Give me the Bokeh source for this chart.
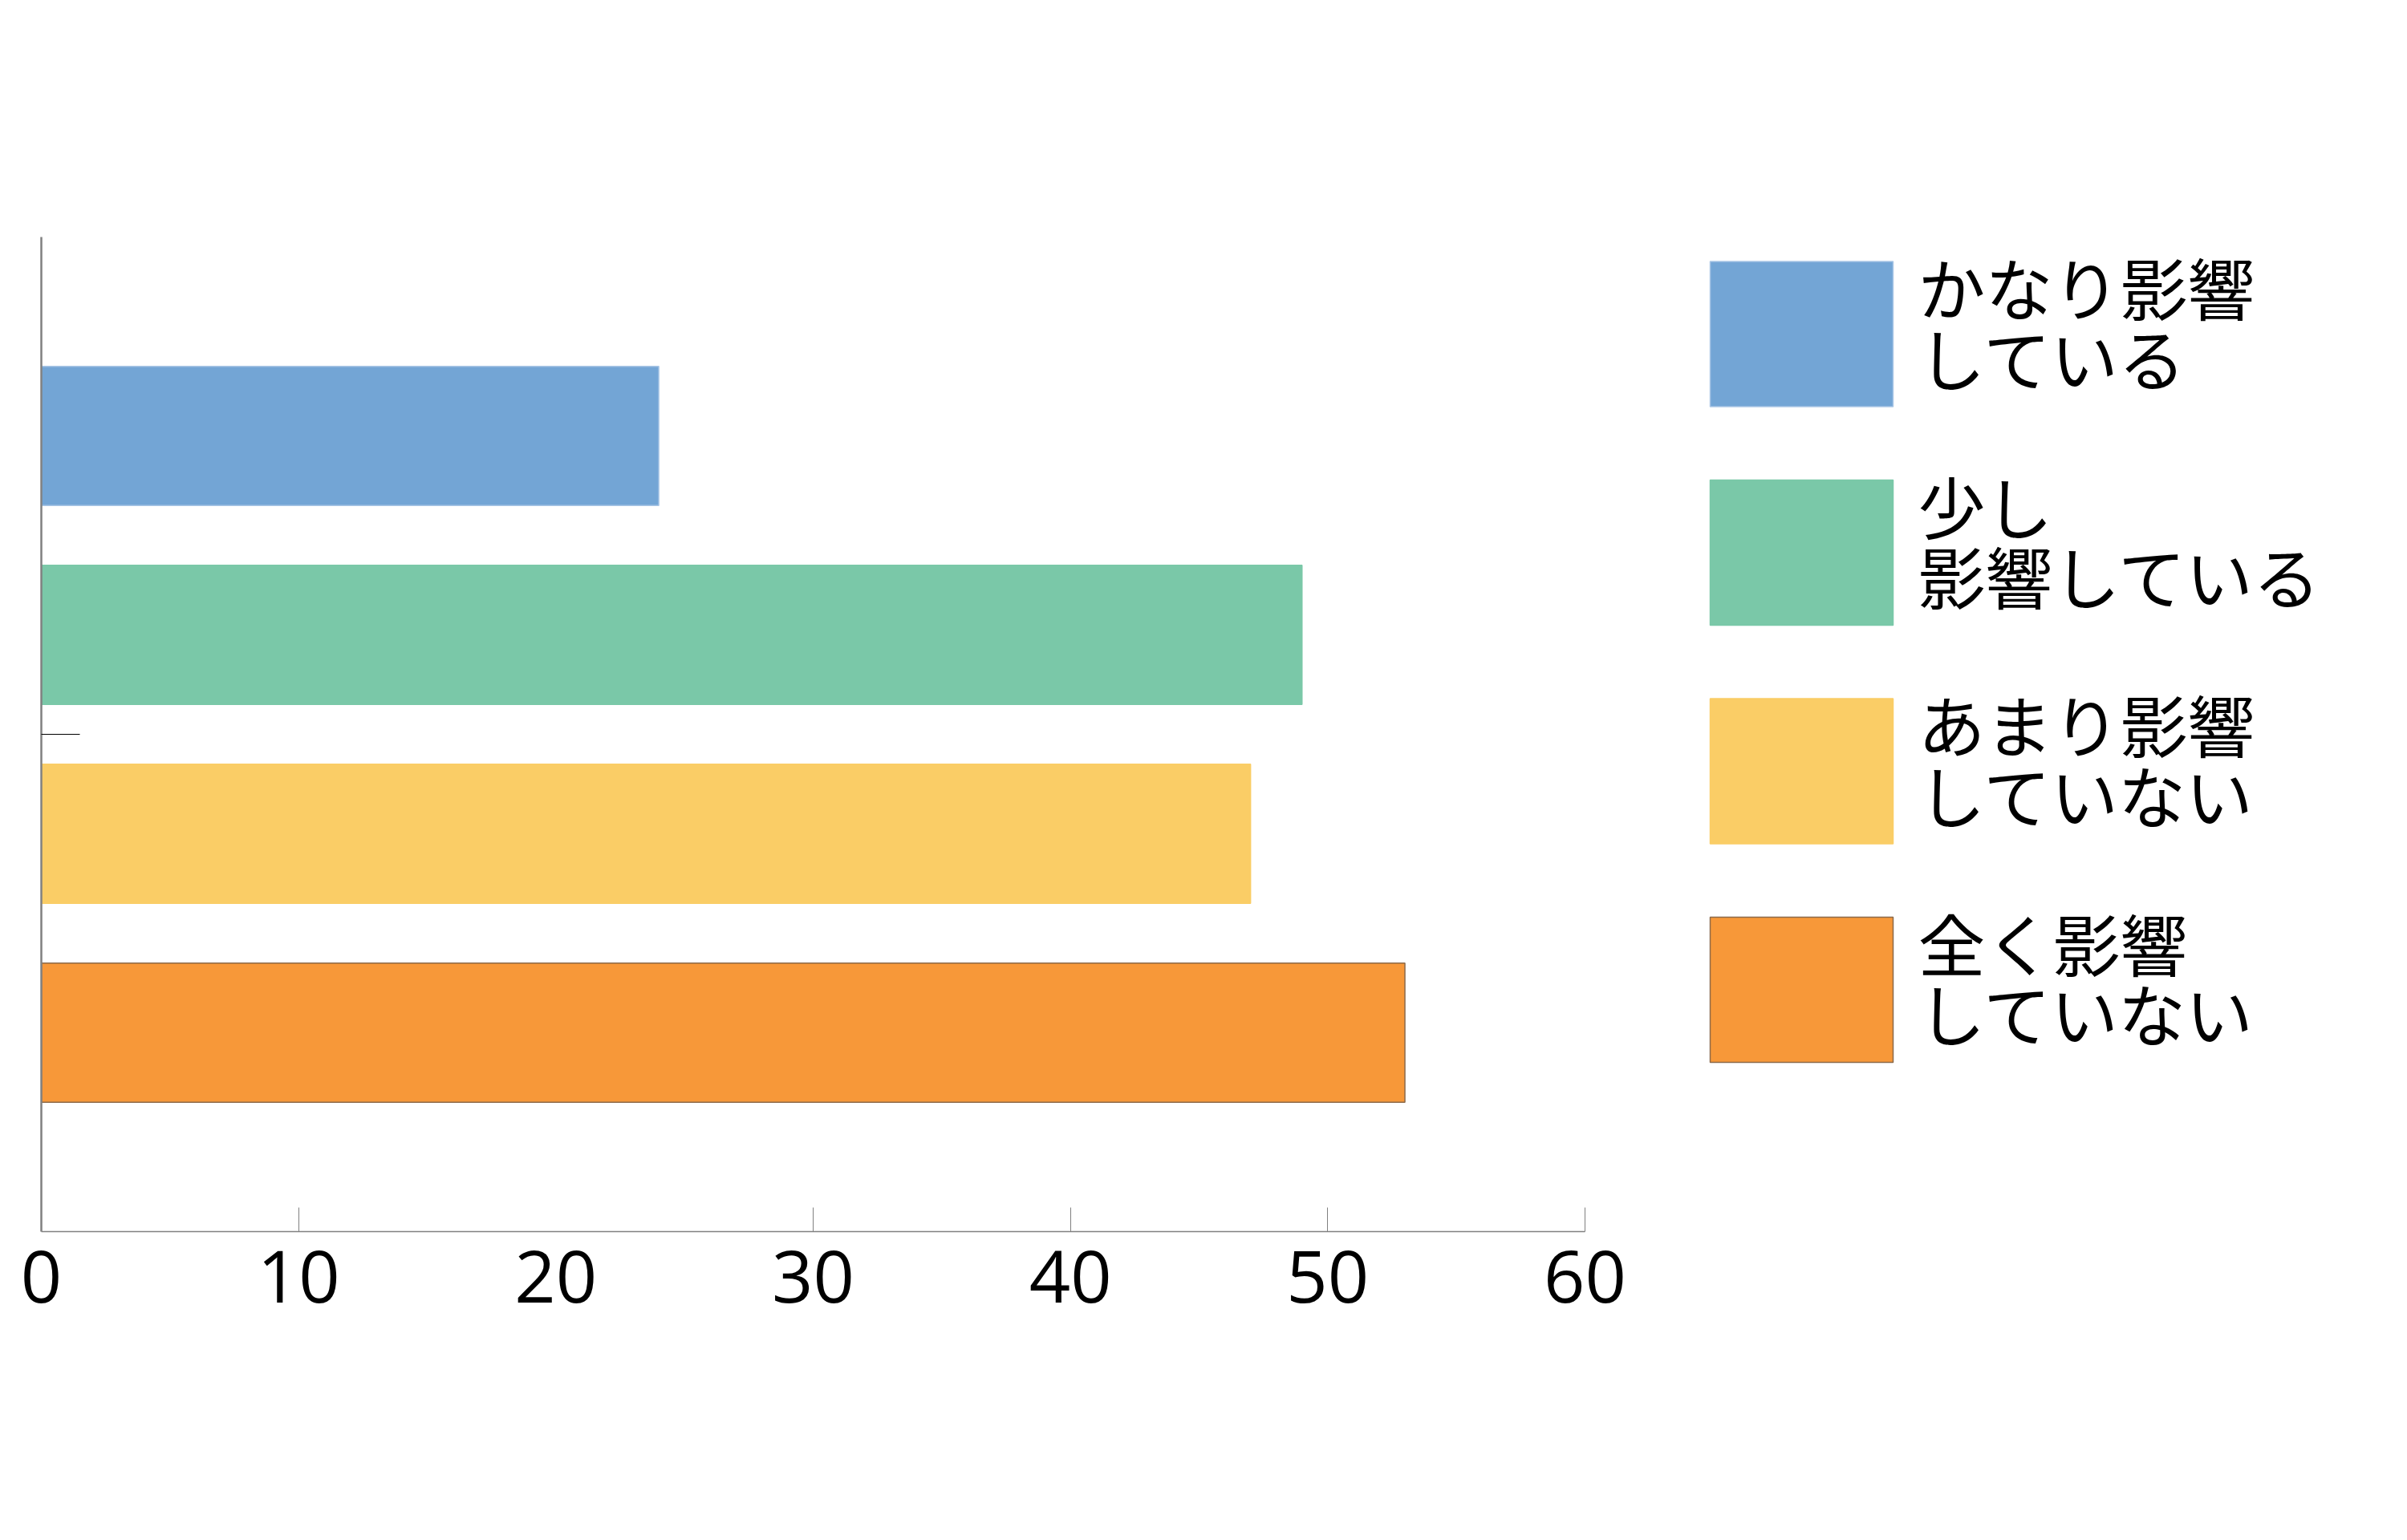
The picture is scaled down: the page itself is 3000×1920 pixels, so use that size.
from bokeh.plotting import figure
from bokeh.layouts import row
from bokeh.models import Range1d, FixedTicker, LinearAxis
from bokeh.core.properties import value
from bokeh.embed import file_html
from bokeh.resources import INLINE

# data
labels = ["かなり影響\nしている", "少し\n影響している", "あまり影響\nしていない", "全く影響\nしていない"]
values = [24, 49, 47, 53]
slots = [4, 3, 2, 1]
colors = ["#73A5D5", "#7AC8A8", "#FACD66", "#F79839"]
edges = ["#A9C6E6", "#7AC8A8", "#FACD66", "#8C6A4A"]
x_ticks = [0, 10, 20, 30, 40, 50, 60]

p = figure(width=2056, height=1904, x_range=Range1d(0, 60), y_range=Range1d(0, 5),
           output_backend="svg", toolbar_location=None, x_axis_location=None,
           y_axis_location=None, min_border_left=51, min_border_right=81,
           min_border_top=295, min_border_bottom=369)
p.outline_line_color = None
p.grid.visible = False

p.hbar(y=slots, right=values, left=0, height=0.7, fill_color=colors, line_color=edges, line_width=1.5)

xa = LinearAxis(ticker=FixedTicker(ticks=x_ticks, minor_ticks=[10, 30, 40, 50, 60]))
xa.axis_line_color = "#808080"
xa.axis_line_width = 1.5
xa.major_tick_in = 0
xa.major_tick_out = 0
xa.minor_tick_in = 30
xa.minor_tick_out = 0
xa.minor_tick_line_color = "#808080"
xa.major_label_text_font = "Open Sans"
xa.major_label_text_font_size = "90px"
xa.major_label_text_color = "black"
xa.major_label_standoff = 23
p.add_layout(xa, "below")

ya = LinearAxis(ticker=FixedTicker(ticks=[2.5]))
ya.axis_line_color = "#808080"
ya.axis_line_width = 2.5
ya.major_tick_in = 48
ya.major_tick_out = 0
ya.major_tick_line_color = "black"
ya.major_label_text_font_size = "0px"
ya.major_label_text_alpha = 0
p.add_layout(ya, "left")

# legend panel (its frame lines up with the chart frame in the row)
item_idx = list(range(len(labels)))
lg = figure(width=928, height=1904, x_range=Range1d(0, 928), y_range=Range1d(4.106, -0.444),
            output_backend="svg", toolbar_location=None, min_border=0)
lg.axis.visible = False
lg.grid.visible = False
lg.outline_line_color = None
lg.rect(x=189, y=item_idx, width=228, height=181, width_units="screen", height_units="screen",
        fill_color=colors, line_color=edges, line_width=1.5)
lg.text(x=334, y=item_idx, text=labels, text_baseline="middle", text_align="left",
        y_offset=-16, text_font=value("Noto Sans CJK JP"), text_font_size="84px",
        text_line_height=0.72, text_color="black")

layout = row(p, lg)
open("out.html", "w").write(file_html(layout, INLINE))
